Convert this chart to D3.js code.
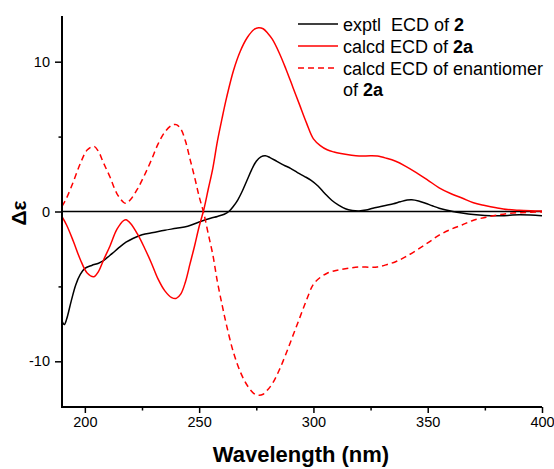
<!DOCTYPE html>
<html>
<head>
<meta charset="utf-8">
<script src="https://cdn.jsdelivr.net/npm/d3@7/dist/d3.min.js"></script>
<style>
  html, body { margin: 0; padding: 0; background: #fff; }
  svg { display: block; }
  text { font-family: "Liberation Sans", Arial, sans-serif; }
</style>
</head>
<body>
<svg id="chart" width="554" height="469"></svg>
<script>
// ---- data ----
const exptlWave = [190,191,192,194,196,198,200,203,206,208,210,212,215,218,221,225,230,235,240,245,250,255,258,261,263,265,267,269,271,273,275,277,279,281,284,287,290,293,296,299,302,305,308,311,314,317,320,323,326,329,332,335,338,341,343,346,349,352,355,358,361,365,370,375,380,385,390,395,400];
const exptlValues = [-7.3,-7.55,-7.2,-6.0,-4.9,-4.2,-3.8,-3.6,-3.45,-3.3,-3.05,-2.8,-2.4,-2.05,-1.8,-1.55,-1.4,-1.25,-1.12,-0.98,-0.7,-0.45,-0.33,-0.18,0.0,0.35,0.8,1.4,2.1,2.8,3.35,3.65,3.72,3.6,3.35,3.1,2.88,2.6,2.35,2.08,1.7,1.2,0.75,0.42,0.18,0.07,0.04,0.1,0.22,0.32,0.42,0.52,0.65,0.76,0.78,0.7,0.55,0.38,0.22,0.1,0.0,-0.1,-0.2,-0.26,-0.28,-0.26,-0.22,-0.24,-0.29];

const calcWave = [190,192,195,198,201,204,206,208,211,214,217,218,220,223,226,229,232,235,238,240,242,244,246,248,250,252,254,256,258,260,262,265,268,271,274,276,278,280,282,285,288,291,294,297,300,303,306,309,312,316,320,325,328,332,336,340,345,350,355,360,365,370,375,380,385,390,395,400];
const calcValues = [-0.35,-0.9,-2.0,-3.2,-4.1,-4.35,-4.0,-3.3,-2.3,-1.2,-0.6,-0.55,-0.8,-1.5,-2.4,-3.4,-4.5,-5.3,-5.75,-5.8,-5.5,-4.7,-3.5,-2.3,-1.0,0.1,1.5,2.9,4.7,6.2,7.6,9.4,10.7,11.6,12.15,12.27,12.2,11.9,11.5,10.6,9.5,8.3,7.1,5.9,4.85,4.4,4.12,3.97,3.87,3.77,3.7,3.72,3.7,3.55,3.35,3.05,2.6,2.1,1.58,1.2,0.9,0.58,0.4,0.25,0.13,0.08,0.05,0.03];
const enantValues = [0.35,0.9,2.0,3.2,4.1,4.35,4.0,3.3,2.3,1.2,0.6,0.55,0.8,1.5,2.4,3.4,4.5,5.3,5.75,5.8,5.5,4.7,3.5,2.3,1.0,-0.1,-1.5,-2.9,-4.7,-6.2,-7.6,-9.4,-10.7,-11.6,-12.15,-12.27,-12.2,-11.9,-11.5,-10.6,-9.5,-8.3,-7.1,-5.9,-4.85,-4.4,-4.12,-3.97,-3.87,-3.77,-3.7,-3.72,-3.7,-3.55,-3.35,-3.05,-2.6,-2.1,-1.58,-1.2,-0.9,-0.58,-0.4,-0.25,-0.13,-0.08,-0.05,-0.03];

const xMajorTicks = [200,250,300,350,400];
const xMinorTicks = [225,275,325,375];
const yMajorTicks = [-10,0,10];
const yMinorTicks = [-5,5];
const yTickLabels = ["-10","0","10"];

const legendItems = [
  {pre: "exptl  ECD of ", bold: "2", color: "#000", dash: null},
  {pre: "calcd ECD of ", bold: "2a", color: "#ff0000", dash: null},
  {pre: "calcd ECD of enantiomer", bold: null, color: "#ff0000", dash: "6,4"}
];

// ---- layout ----
const svg = d3.select("#chart");
const pL = 62, pR = 542, pT = 16, pB = 407;
const x = d3.scaleLinear().domain([190, 400]).range([pL, pR]);
const y = d3.scaleLinear().domain([-13.05, 13.05]).range([pB, pT]);

svg.append("defs").append("clipPath").attr("id", "clip")
  .append("rect").attr("x", pL).attr("y", pT).attr("width", pR - pL).attr("height", pB - pT);

// zero line
svg.append("line").attr("x1", pL).attr("x2", pR).attr("y1", y(0)).attr("y2", y(0))
  .attr("stroke", "#000").attr("stroke-width", 1.5);

const line = d3.line().x(d => x(d[0])).y(d => y(d[1])).curve(d3.curveCatmullRom.alpha(0.5));
const g = svg.append("g").attr("clip-path", "url(#clip)");

g.append("path").datum(exptlWave.map((w, i) => [w, exptlValues[i]]))
  .attr("d", line).attr("fill", "none").attr("stroke", "#000").attr("stroke-width", 1.5);
g.append("path").datum(calcWave.map((w, i) => [w, calcValues[i]]))
  .attr("d", line).attr("fill", "none").attr("stroke", "#ff0000").attr("stroke-width", 1.5);
g.append("path").datum(calcWave.map((w, i) => [w, enantValues[i]]))
  .attr("d", line).attr("fill", "none").attr("stroke", "#ff0000").attr("stroke-width", 1.5)
  .attr("stroke-dasharray", "6,4");

// axes
const xAxis = svg.append("g").attr("transform", `translate(0,${pB})`)
  .call(d3.axisBottom(x).tickValues(xMajorTicks).tickSize(6).tickPadding(4).tickFormat(d3.format("d")));
const xAxisMinor = svg.append("g").attr("transform", `translate(0,${pB})`)
  .call(d3.axisBottom(x).tickValues(xMinorTicks).tickSize(3.5).tickFormat(""));
const yAxis = svg.append("g").attr("transform", `translate(${pL},0)`)
  .call(d3.axisLeft(y).tickValues(yMajorTicks).tickSize(7).tickPadding(5).tickFormat((d, i) => yTickLabels[i]));
const yAxisMinor = svg.append("g").attr("transform", `translate(${pL},0)`)
  .call(d3.axisLeft(y).tickValues(yMinorTicks).tickSize(3.5).tickFormat(""));

svg.selectAll(".domain").attr("stroke", "#000").attr("stroke-width", 2);
xAxisMinor.select(".domain").remove();
yAxisMinor.select(".domain").remove();
xAxis.select(".domain").attr("d", `M${pL - 1},0H${pR}`);
yAxis.select(".domain").attr("d", `M0,${pT}V${pB + 1}`);
svg.selectAll(".tick line").attr("stroke", "#000").attr("stroke-width", 1.5);
svg.selectAll(".tick text").attr("font-family", "Liberation Sans, Arial, sans-serif")
  .attr("font-size", 14.5).attr("fill", "#000");

// axis titles
svg.append("text").attr("x", 301).attr("y", 462).attr("text-anchor", "middle")
  .attr("font-size", 22).attr("font-weight", "bold").text("Wavelength (nm)");
svg.append("text").attr("transform", "translate(26,213) rotate(-90)").attr("text-anchor", "middle")
  .attr("font-size", 21).attr("font-weight", "bold").text("Δε");

// legend
const lg = svg.append("g");
const rowY = [24, 46, 68];
legendItems.forEach((it, i) => {
  const ln = lg.append("line").attr("x1", 298).attr("x2", 338).attr("y1", rowY[i]).attr("y2", rowY[i])
    .attr("stroke", it.color).attr("stroke-width", 1.5);
  if (it.dash) ln.attr("stroke-dasharray", it.dash);
  const t = lg.append("text").attr("x", 343).attr("y", rowY[i] + 6.5).attr("font-size", 18)
    .style("white-space", "pre");
  t.append("tspan").text(it.pre);
  if (it.bold) t.append("tspan").attr("font-weight", "bold").text(it.bold);
});
const t4 = lg.append("text").attr("x", 343).attr("y", 95.5).attr("font-size", 18).style("white-space", "pre");
t4.append("tspan").text("of ");
t4.append("tspan").attr("font-weight", "bold").text("2a");
</script>
</body>
</html>
